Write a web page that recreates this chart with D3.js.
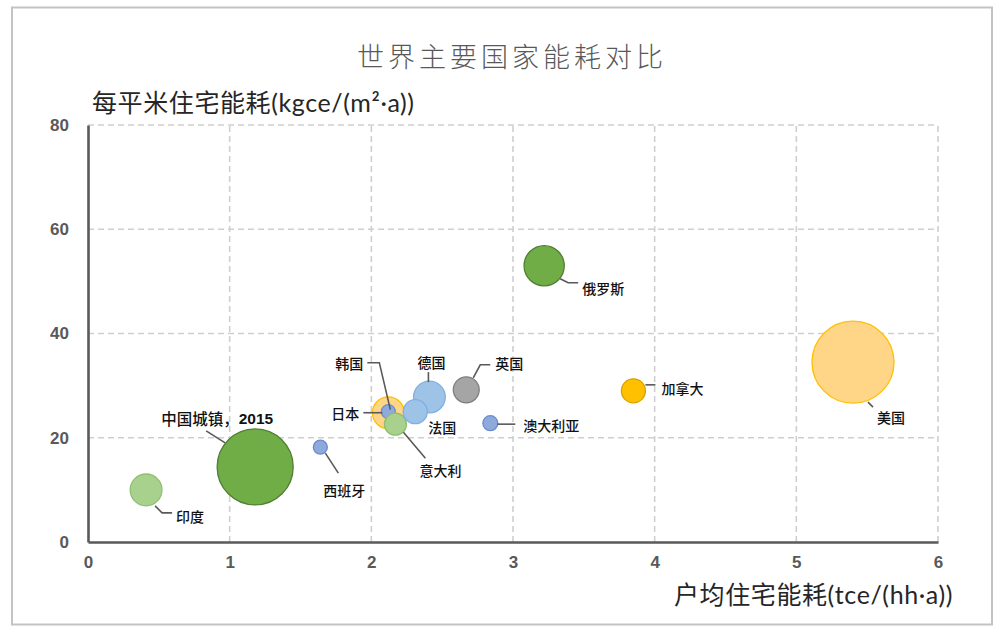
<!DOCTYPE html>
<html><head><meta charset="utf-8">
<script src="https://cdn.jsdelivr.net/npm/d3@7"></script>
<style>
html,body{margin:0;padding:0;background:#fff;}
svg{display:block;}
</style></head>
<body>
<svg id="chart" width="1004" height="635"></svg>
<script>
// ---- data ----
const countries = ["美国","中国城镇，2015","俄罗斯","印度","日本","韩国","意大利","德国","法国","英国","加拿大","西班牙","澳大利亚"];
const perHousehold = [5.40, 1.18, 3.22, 0.41, 2.12, 2.12, 2.17, 2.41, 2.31, 2.67, 3.85, 1.64, 2.84]; // tce/(hh·a)
const perArea      = [34.5, 14.4, 53.0, 10.0, 24.8, 25.0, 22.6, 27.8, 25.0, 29.2, 29.0, 18.2, 22.8]; // kgce/(m²·a)
const bubbleSize   = [100, 86, 24, 15, 15, 2.9, 7.2, 15, 8.6, 10, 8.6, 2.9, 3.3];
const xTicks = [0,1,2,3,4,5,6];
const yTicks = [0,20,40,60,80];

// ---- styles / layout (not data) ----
const fills   = ["#ffd588","#70ad47","#70ad47","#a9d18e","#ffd588","#8eaadb","#a9d18e","#9dc3e6","#9dc3e6","#a5a5a5","#ffc000","#8eaadb","#8eaadb"];
const strokes = ["#ffc000","#507e32","#507e32","#8fbf6f","#ffc000","#6f8fcf","#8fbf6f","#82aee0","#82aee0","#7f7f7f","#d9a000","#6a8ad0","#6a8ad0"];
// leader lines and label anchors, offsets in px from bubble centre
const labelLayout = [
  {line:[[15,40],[20,45]], tx:24, ty:55, anchor:"start"},
  {line:[[-49,-36],[-30,-24]], tx:-38, ty:-49, anchor:"middle"},
  {line:[[16,13],[24,17],[34,17]], tx:38, ty:22, anchor:"start"},
  {line:[[9,16],[16,23],[26,23]], tx:30, ty:26, anchor:"start"},
  {line:[[-25,0],[-6,0]], tx:-29, ty:0, anchor:"end"},
  {line:[[-21,-49],[-9,-49],[2,-2]], tx:-25, ty:-49, anchor:"end"},
  {line:[[8,8],[30,34]], tx:45, ty:46, anchor:"middle"},
  {line:[[-1,-25],[-1,-15]], tx:2, ty:-35, anchor:"middle"},
  {line:null, tx:27, ty:15, anchor:"middle"},
  {line:[[7,-12],[14,-25],[24,-25]], tx:29, ty:-27, anchor:"start"},
  {line:[[12,-6],[22,-6]], tx:28, ty:-3, anchor:"start"},
  {line:[[5,6],[18,26]], tx:24, ty:43, anchor:"middle"},
  {line:[[7,1],[25,1]], tx:33, ty:2, anchor:"start"}
];

const svg = d3.select("#chart");

// frame
svg.append("rect").attr("x",12).attr("y",7.5).attr("width",980).attr("height",617)
  .attr("fill","#fff").attr("stroke","#c3c3c3").attr("stroke-width",2);

const x = d3.scaleLinear().domain([0,6]).range([88,938]);
const y = d3.scaleLinear().domain([0,80]).range([542,125]);
const r = d3.scaleSqrt().domain([0,100]).range([0,41]);

// grid
const grid = svg.append("g").attr("stroke","#cfcfcf").attr("stroke-width",1.6).attr("stroke-dasharray","6,4");
grid.selectAll("line.h").data(yTicks.filter(d=>d>0)).join("line")
  .attr("x1",x(0)).attr("x2",x(6)).attr("y1",d=>y(d)).attr("y2",d=>y(d));
grid.selectAll("line.v").data(xTicks.filter(d=>d>0)).join("line")
  .attr("y1",y(0)).attr("y2",y(80)).attr("x1",d=>x(d)).attr("x2",d=>x(d));

// axes
const xAxis = svg.append("g").attr("transform",`translate(0,${y(0)})`)
  .call(d3.axisBottom(x).tickValues(xTicks).tickSize(0).tickPadding(14).tickFormat(d3.format("d")));
const yAxis = svg.append("g").attr("transform",`translate(${x(0)},0)`)
  .call(d3.axisLeft(y).tickValues(yTicks).tickSize(0).tickPadding(19).tickFormat(d3.format("d")));
[xAxis,yAxis].forEach(a=>{
  a.select(".domain").attr("stroke","#595959").attr("stroke-width",2.6);
  a.attr("font-size",null).attr("font-family",null);
  a.selectAll("text").attr("fill","#595959").style("font-family","'Liberation Sans',Arial,sans-serif")
    .style("font-weight","bold").style("font-size","17px");
});

// bubbles
const idx = d3.range(countries.length);
svg.append("g").selectAll("circle").data(idx).join("circle")
  .attr("cx",i=>x(perHousehold[i])).attr("cy",i=>y(perArea[i])).attr("r",i=>r(bubbleSize[i]))
  .attr("fill",i=>fills[i]).attr("stroke",i=>strokes[i]).attr("stroke-width",1.3);

// leader lines + labels
const lab = svg.append("g");
idx.forEach(i=>{
  const cx = x(perHousehold[i]), cy = y(perArea[i]), L = labelLayout[i];
  if (L.line) {
    lab.append("path").attr("d", d3.line()(L.line.map(p=>[cx+p[0],cy+p[1]])))
      .attr("fill","none").attr("stroke","#595959").attr("stroke-width",1.6);
  }
  const t = lab.append("text").attr("x",cx+L.tx).attr("y",cy+L.ty).attr("text-anchor",L.anchor)
    .attr("dominant-baseline","central").attr("fill","#111")
    .style("font-family","'Noto Sans CJK SC',sans-serif").style("font-weight","500").style("font-size","14px");
  const name = countries[i];
  const m = name.match(/^(.*?)(\d+)$/);
  if (m) {
    t.style("font-size","15.5px");
    t.append("tspan").text(m[1]);
    t.append("tspan").text(m[2]).style("font-family","'Liberation Sans',Arial,sans-serif").style("font-weight","bold");
  } else {
    t.text(name);
  }
});

// titles
const latinCjk = "Lato,'Noto Sans CJK SC',sans-serif";
svg.append("text").attr("x",512).attr("y",55).attr("text-anchor","middle").attr("dominant-baseline","central")
  .attr("fill","#595959").style("font-family","'Noto Sans CJK SC',sans-serif").style("font-weight","300")
  .style("font-size","27px").style("letter-spacing","4px").text("世界主要国家能耗对比");
svg.append("text").attr("x",92).attr("y",102).attr("dominant-baseline","central")
  .attr("fill","#262626").style("font-family",latinCjk).style("font-size","25px").style("letter-spacing","0.6px")
  .text("每平米住宅能耗(kgce/(m²·a))");
svg.append("text").attr("x",953).attr("y",594).attr("text-anchor","end").attr("dominant-baseline","central")
  .attr("fill","#262626").style("font-family",latinCjk).style("font-size","25px").style("letter-spacing","0.6px")
  .text("户均住宅能耗(tce/(hh·a))");
</script>
</body></html>
